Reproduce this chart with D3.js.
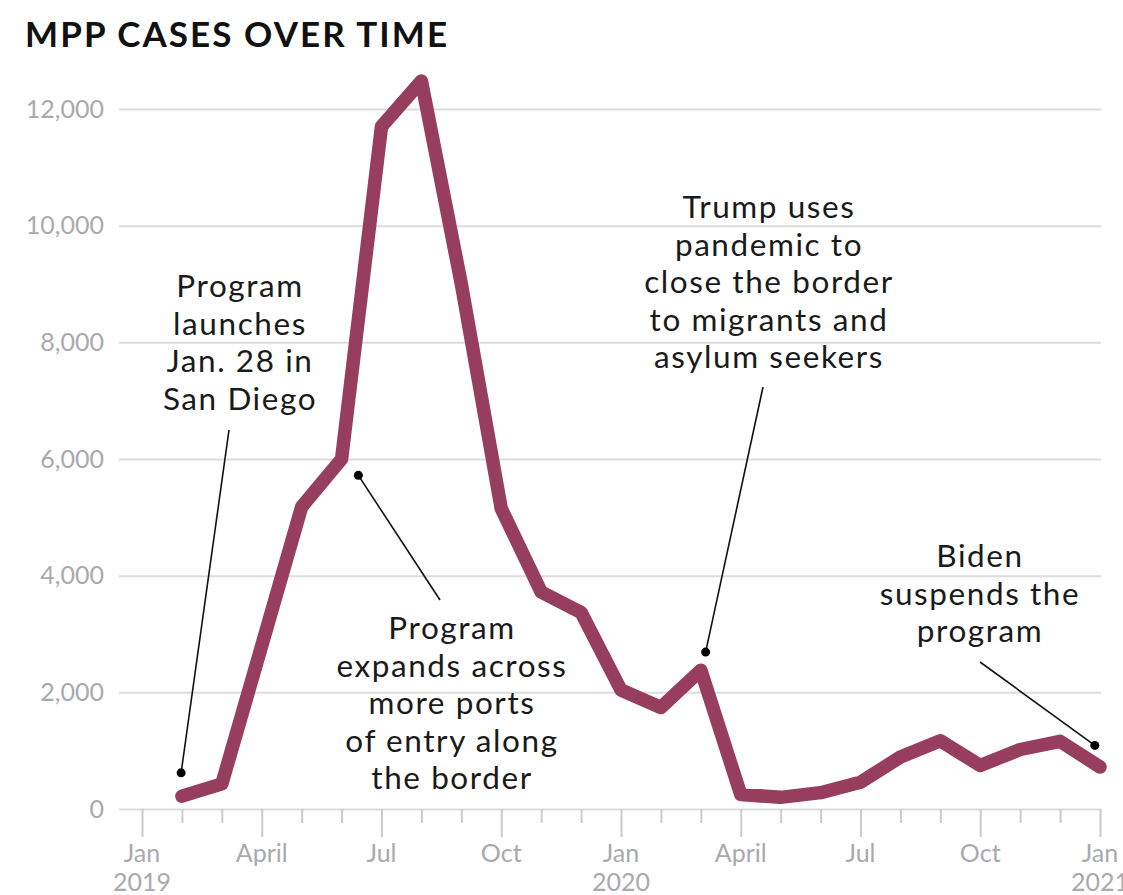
<!DOCTYPE html>
<html><head><meta charset="utf-8">
<script src="https://cdn.jsdelivr.net/npm/d3@7"></script>
<style>body{margin:0;background:#fff;} svg{display:block;}</style>
</head><body>
<svg id="c" width="1123" height="895"></svg>
<script>
// ---- data ----
const months = ["2019-01","2019-02","2019-03","2019-04","2019-05","2019-06","2019-07","2019-08","2019-09","2019-10","2019-11","2019-12",
                "2020-01","2020-02","2020-03","2020-04","2020-05","2020-06","2020-07","2020-08","2020-09","2020-10","2020-11","2020-12","2021-01"];
const caseMonths = ["2019-02","2019-03","2019-04","2019-05","2019-06","2019-07","2019-08","2019-09","2019-10","2019-11","2019-12",
                "2020-01","2020-02","2020-03","2020-04","2020-05","2020-06","2020-07","2020-08","2020-09","2020-10","2020-11","2020-12","2021-01"];
const cases = [220, 430, 2800, 5180, 6000, 11700, 12480, 9000, 5150, 3720, 3370,
               2040, 1740, 2380, 250, 200, 280, 460, 890, 1170, 745, 1020, 1160, 720];
const yTicks = [0, 2000, 4000, 6000, 8000, 10000, 12000];
const xTickMonths = ["2019-01","2019-04","2019-07","2019-10","2020-01","2020-04","2020-07","2020-10","2021-01"];
const xTickLabels = [["Jan","2019"],["April"],["Jul"],["Oct"],["Jan","2020"],["April"],["Jul"],["Oct"],["Jan","2021"]];
const title = "MPP CASES OVER TIME";
const annoLines = [
  ["Program","launches","Jan. 28 in","San Diego"],
  ["Program","expands across","more ports","of entry along","the border"],
  ["Trump uses","pandemic to","close the border","to migrants and","asylum seekers"],
  ["Biden","suspends the","program"]
];
// annotation dot positions: month index (fractional) and value
const annoDotMonth = [0.98, 5.42, 14.12, 23.87];
const annoDotValue = [620, 5720, 2690, 1090];

// ---- layout ----
const svg = d3.select("#c");
const x = d3.scaleLinear().domain([0, months.length - 1]).range([142, 1100]);
const y = d3.scaleLinear().domain([0, 12000]).range([809, 109]);
const gridLeft = 119, gridRight = 1101;
const tickFont = "Lato, 'Noto Sans', sans-serif";
const gray = "#a8aaad";

// title
const t = svg.append("text").attr("x", 25).attr("y", 47)
  .attr("font-family", tickFont).attr("font-weight", 700).attr("font-size", 35)
  .attr("fill", "#111").text(title);
const tw = t.node().getComputedTextLength();
t.attr("letter-spacing", ((422 - tw) / (title.length - 1)).toFixed(2));

// y grid + labels
const yAxis = svg.append("g").attr("transform", `translate(${gridLeft},0)`)
  .call(d3.axisLeft(y).tickValues(yTicks).tickSize(-(gridRight - gridLeft)).tickPadding(15).tickFormat(d3.format(",")));
yAxis.select(".domain").remove();
yAxis.selectAll(".tick line").attr("stroke", "#dcdcdc").attr("stroke-width", 2);
yAxis.selectAll(".tick text").attr("fill", gray).attr("font-family", tickFont).attr("font-size", 25);

// x axis ticks
const xIdx = d3.range(months.length);
const xAxis = svg.append("g").attr("transform", `translate(0,${y(0)})`)
  .call(d3.axisBottom(x).tickValues(xIdx).tickSize(14).tickFormat(""));
xAxis.select(".domain").remove();
xAxis.selectAll(".tick line").attr("stroke", "#c9cbce").attr("stroke-width", 2)
  .attr("y2", d => xTickMonths.includes(months[d]) ? 28 : 14);
const lbl = svg.append("g").attr("font-family", tickFont).attr("font-size", 25).attr("fill", gray).attr("text-anchor", "middle");
xTickMonths.forEach((m, i) => {
  const tx = lbl.append("text").attr("x", x(months.indexOf(m))).attr("y", 862);
  xTickLabels[i].forEach((s, j) => {
    tx.append("tspan").attr("x", x(months.indexOf(m))).attr("dy", j === 0 ? 0 : 29).text(s);
  });
});

// line
const pts = caseMonths.map((m, i) => [months.indexOf(m), cases[i]]);
svg.append("path").datum(pts)
  .attr("d", d3.line().x(d => x(d[0])).y(d => y(d[1])))
  .attr("fill", "none").attr("stroke", "#973e5f").attr("stroke-width", 13.5)
  .attr("stroke-linejoin", "round").attr("stroke-linecap", "round");

// annotations
const annoFont = "Lato, 'Noto Sans', sans-serif";
const annoCenters = [[240, 297], [452, 639], [769, 218], [980, 567]];
const lineStep = 37.6;
const g = svg.append("g").attr("font-family", annoFont).attr("font-size", 31.5).attr("fill", "#1a1a1a").attr("text-anchor", "middle");
// measure to set spacing
const probe = g.append("text").text("close the border");
const pw = probe.node().getComputedTextLength();
probe.remove();
const ls = (248 - pw) / 15;
annoLines.forEach((lines, k) => {
  const [cx, cy] = annoCenters[k];
  const tx = g.append("text").attr("letter-spacing", ls.toFixed(2));
  lines.forEach((s, j) => tx.append("tspan").attr("x", cx).attr("y", cy + j * lineStep).text(s));
});
// leader lines
const leaderTop = [[229, 430], [440, 600], [763, 387], [980, 662]];
annoDotMonth.forEach((m, k) => {
  const dx = x(m), dy = y(annoDotValue[k]);
  svg.append("line").attr("x1", leaderTop[k][0]).attr("y1", leaderTop[k][1]).attr("x2", dx).attr("y2", dy)
    .attr("stroke", "#111").attr("stroke-width", 1.6);
  svg.append("circle").attr("cx", dx).attr("cy", dy).attr("r", 4.5).attr("fill", "#000");
});
</script>
</body></html>
